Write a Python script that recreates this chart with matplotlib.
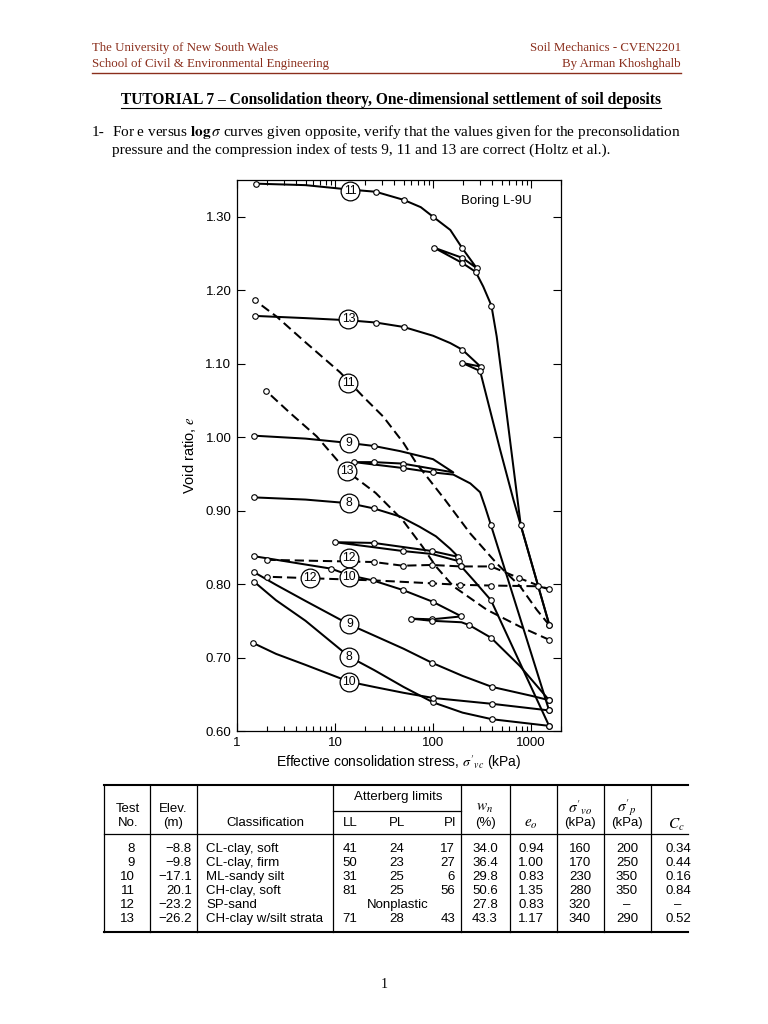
import numpy as np
import matplotlib
matplotlib.use("Agg")
import matplotlib.pyplot as plt
from matplotlib.ticker import FixedLocator, NullFormatter, LogLocator

plt.rcParams['mathtext.fontset'] = 'stix'

# --- e versus log(sigma) curves, Boring L-9U ---
# each test: loading curve (incl. unload/reload loop) and rebound curve
t8_load_x = [1.48, 5, 14, 24.8, 46, 73, 107, 150, 181, 97, 24.8, 10, 49, 97, 185, 194, 260, 390, 1527]
t8_load_e = [0.918, 0.915, 0.910, 0.903, 0.892, 0.878, 0.865, 0.848, 0.837, 0.845, 0.856, 0.857, 0.845, 0.841, 0.831, 0.824, 0.805, 0.778, 0.607]
t8_obs_x = [1.48, 24.8, 181, 97, 24.8, 10, 49, 185, 194, 390, 1527]
t8_obs_e = [0.918, 0.903, 0.837, 0.845, 0.856, 0.857, 0.845, 0.831, 0.824, 0.778, 0.607]
t8_reb_x = [1527, 400, 200, 100, 50, 25, 14, 5, 2.5, 1.5]
t8_reb_e = [0.607, 0.616, 0.625, 0.639, 0.660, 0.683, 0.701, 0.750, 0.778, 0.803]
t8_reb_obs_x = [1527, 400, 100, 1.5]
t8_reb_obs_e = [0.607, 0.616, 0.639, 0.803]

t9_load_x = [1.48, 5, 14, 24.8, 46, 100, 161, 49, 24.8, 15.7, 49, 99, 161, 240, 302, 340, 388, 1527]
t9_load_e = [1.002, 0.998, 0.992, 0.988, 0.981, 0.970, 0.952, 0.964, 0.966, 0.966, 0.958, 0.952, 0.949, 0.937, 0.925, 0.905, 0.881, 0.628]
t9_obs_x = [1.48, 24.8, 49, 24.8, 15.7, 49, 99, 388, 1527]
t9_obs_e = [1.002, 0.988, 0.964, 0.966, 0.966, 0.958, 0.952, 0.881, 0.628]
t9_reb_x = [1527, 1000, 400, 200, 97, 50, 25, 14, 5, 2.5, 1.5]
t9_reb_e = [0.642, 0.648, 0.660, 0.675, 0.693, 0.712, 0.730, 0.745, 0.777, 0.799, 0.816]
t9_reb_obs_x = [1527, 400, 97, 1.5]
t9_reb_obs_e = [0.642, 0.660, 0.693, 0.816]

t10_load_x = [1.48, 9.1, 14, 24.3, 49, 99, 195, 97, 59, 97, 195, 235, 390, 775, 1527]
t10_load_e = [0.838, 0.821, 0.812, 0.805, 0.792, 0.776, 0.756, 0.752, 0.753, 0.750, 0.748, 0.744, 0.727, 0.688, 0.642]
t10_obs_x = [1.48, 9.1, 24.3, 49, 99, 195, 97, 59, 97, 235, 390, 1527]
t10_obs_e = [0.838, 0.821, 0.805, 0.792, 0.776, 0.756, 0.752, 0.753, 0.750, 0.744, 0.727, 0.642]
t10_reb_x = [1527, 400, 200, 100, 50, 25, 14, 5, 2.5, 1.45]
t10_reb_e = [0.628, 0.637, 0.641, 0.645, 0.652, 0.660, 0.667, 0.690, 0.705, 0.720]
t10_reb_obs_x = [1527, 400, 100, 1.45]
t10_reb_obs_e = [0.628, 0.637, 0.645, 0.720]

t11_load_x = [1.58, 5, 14, 26, 50, 75, 100, 150, 199, 279, 199, 102, 199, 272, 325, 394, 446, 560, 785, 1538]
t11_load_e = [1.345, 1.343, 1.337, 1.334, 1.323, 1.313, 1.300, 1.282, 1.257, 1.230, 1.244, 1.258, 1.237, 1.225, 1.205, 1.179, 1.137, 1.035, 0.880, 0.744]
t11_obs_x = [1.58, 26, 50, 100, 199, 279, 199, 102, 199, 272, 394, 785, 1538]
t11_obs_e = [1.345, 1.334, 1.323, 1.300, 1.257, 1.230, 1.244, 1.258, 1.237, 1.225, 1.179, 0.880, 0.744]
t11_reb_x = [1538, 1143, 772, 447, 239, 132, 68, 50, 31, 19.4, 11.3, 5.1, 2.54, 1.53]
t11_reb_e = [0.744, 0.765, 0.797, 0.828, 0.869, 0.915, 0.964, 0.992, 1.028, 1.055, 1.088, 1.128, 1.164, 1.186]
t11_reb_obs_x = [1538, 1.53]
t11_reb_obs_e = [0.744, 1.186]

t12_load_x = [2, 25, 49, 97, 194, 390, 760, 1190, 1538]
t12_load_e = [0.833, 0.830, 0.825, 0.826, 0.824, 0.824, 0.808, 0.798, 0.793]
t12_obs_x = [2, 25, 49, 97, 194, 390, 760, 1538]
t12_obs_e = [0.833, 0.830, 0.825, 0.826, 0.824, 0.824, 0.808, 0.793]
t12_reb_x = [1538, 1190, 390, 189, 97, 25, 5.5, 2]
t12_reb_e = [0.793, 0.797, 0.798, 0.799, 0.801, 0.805, 0.808, 0.810]
t12_reb_obs_x = [1190, 390, 189, 97, 2]
t12_reb_obs_e = [0.797, 0.798, 0.799, 0.801, 0.810]

t13_load_x = [1.53, 5, 14, 26, 50, 100, 150, 199, 305, 199, 302, 483, 660, 1538]
t13_load_e = [1.165, 1.162, 1.159, 1.156, 1.150, 1.138, 1.128, 1.119, 1.096, 1.101, 1.090, 0.983, 0.915, 0.744]
t13_obs_x = [1.53, 26, 50, 199, 305, 199, 302]
t13_obs_e = [1.165, 1.156, 1.150, 1.119, 1.096, 1.101, 1.090]
t13_reb_x = [1538, 772, 354, 161, 107, 78, 49, 26, 13.1, 6.5, 3.47, 1.98]
t13_reb_e = [0.724, 0.742, 0.765, 0.797, 0.824, 0.851, 0.887, 0.924, 0.954, 1.001, 1.033, 1.063]
t13_reb_obs_x = [1538, 1.98]
t13_reb_obs_e = [0.724, 1.063]

# circled curve labels: (text, stress, void ratio)
curve_labels = [('11', 14.2, 1.335), ('13', 13.7, 1.161), ('11', 13.7, 1.074),
                ('9', 13.9, 0.992), ('13', 13.1, 0.954), ('8', 14, 0.910),
                ('12', 14, 0.835), ('12', 5.5, 0.808), ('10', 14, 0.809),
                ('9', 14, 0.745), ('8', 14, 0.701), ('10', 14, 0.667)]

x_ticks = [1, 10, 100, 1000]
y_ticks = [0.60, 0.70, 0.80, 0.90, 1.00, 1.10, 1.20, 1.30]

# --- table ---
tbl_test = ['8', '9', '10', '11', '12', '13']
tbl_elev = ['\u22128.8', '\u22129.8', '\u221217.1', '20.1', '\u221223.2', '\u221226.2']
tbl_class = ['CL-clay, soft', 'CL-clay, firm', 'ML-sandy silt', 'CH-clay, soft', 'SP-sand', 'CH-clay w/silt strata']
tbl_ll = ['41', '50', '31', '81', '', '71']
tbl_pl = ['24', '23', '25', '25', '', '28']
tbl_pi = ['17', '27', '6', '56', '', '43']
tbl_wn = ['34.0', '36.4', '29.8', '50.6', '27.8', '43.3']
tbl_e0 = ['0.94', '1.00', '0.83', '1.35', '0.83', '1.17']
tbl_svo = ['160', '170', '230', '280', '320', '340']
tbl_sp = ['200', '250', '350', '350', '\u2013', '290']
tbl_cc = ['0.34', '0.44', '0.16', '0.84', '\u2013', '0.52']

W, H = 768, 1024
fig = plt.figure(figsize=(W / 100, H / 100), dpi=100)
fig.patch.set_facecolor('white')

# page layer in pixel coordinates
pg = fig.add_axes([0, 0, 1, 1])
pg.set_xlim(0, W)
pg.set_ylim(H, 0)
pg.axis('off')

serif = 'Liberation Serif'
sans = 'Liberation Sans'
hdr_col = '#8a2e1c'

pg.text(92, 48, 'The University of New South Wales', family=serif, fontsize=9.3, color=hdr_col, va='center')
pg.text(92, 64, 'School of Civil & Environmental Engineering', family=serif, fontsize=9.3, color=hdr_col, va='center')
pg.text(681, 48, 'Soil Mechanics - CVEN2201', family=serif, fontsize=9.3, color=hdr_col, va='center', ha='right')
pg.text(681, 64, 'By Arman Khoshghalb', family=serif, fontsize=9.3, color=hdr_col, va='center', ha='right')
pg.plot([92, 681], [73, 73], color=hdr_col, lw=1.0)

title = pg.text(391, 100, 'TUTORIAL 7 \u2013 Consolidation theory, One-dimensional settlement of soil deposits',
                family=serif, fontsize=11.2, weight='bold', va='center', ha='center')
pg.text(92, 132, '1-', family=serif, fontsize=11, va='center')
pg.text(112, 132, r'For e versus $\mathbf{log}\,\sigma$ curves given opposite, verify that the values given for the preconsolidation',
        family=serif, fontsize=11, va='center')
pg.text(112, 150, 'pressure and the compression index of tests 9, 11 and 13 are correct (Holtz et al.).',
        family=serif, fontsize=11, va='center')
pg.text(384, 985, '1', family=serif, fontsize=10, va='center', ha='center')

# --- table drawing ---
tbl_top, tbl_bot = 785, 932
col_lines = [104, 150, 197, 333, 461, 510, 557, 604, 651]
for xl in col_lines:
    pg.plot([xl, xl], [tbl_top, tbl_bot], color='black', lw=0.9)
pg.plot([104, 688], [tbl_top, tbl_top], color='black', lw=1.5)
pg.plot([104, 688], [tbl_bot, tbl_bot], color='black', lw=1.5)
pg.plot([104, 688], [834, 834], color='black', lw=0.9)
pg.plot([333, 461], [811, 811], color='black', lw=0.9)

fs_t = 9.5
tk = dict(family=sans, fontsize=fs_t, va='center')
mk_t = dict(family=sans, fontsize=11, va='center')
pg.text(398, 797, 'Atterberg limits', ha='center', **tk)
pg.text(128, 809, 'Test', ha='center', **tk)
pg.text(128, 823, 'No.', ha='center', **tk)
pg.text(173, 809, 'Elev.', ha='center', **tk)
pg.text(173, 823, '(m)', ha='center', **tk)
pg.text(265, 823, 'Classification', ha='center', **tk)
pg.text(350, 823, 'LL', ha='center', **tk)
pg.text(397, 823, 'PL', ha='center', **tk)
pg.text(450, 823, 'PI', ha='center', **tk)
pg.text(485, 808, r'$w_n$', ha='center', **mk_t)
pg.text(485, 823, '(%)', ha='center', **tk)
pg.text(531, 824, r'$e_o$', ha='center', **mk_t)
pg.text(580, 808, r"$\sigma'_{vo}$", ha='center', **mk_t)
pg.text(580, 823, '(kPa)', ha='center', **tk)
pg.text(627, 808, r"$\sigma'_{p}$", ha='center', **mk_t)
pg.text(627, 823, '(kPa)', ha='center', **tk)
pg.text(676, 825, r'$C_c$', ha='center', **mk_t)

row_y = np.linspace(849, 919, len(tbl_test))
for i, yy in enumerate(row_y):
    pg.text(135, yy, tbl_test[i], ha='right', **tk)
    pg.text(192, yy, tbl_elev[i], ha='right', **tk)
    pg.text(206, yy, tbl_class[i], ha='left', **tk)
    if tbl_ll[i]:
        pg.text(350, yy, tbl_ll[i], ha='center', **tk)
        pg.text(397, yy, tbl_pl[i], ha='center', **tk)
        pg.text(455, yy, tbl_pi[i], ha='right', **tk)
    else:
        pg.text(398, yy, 'Nonplastic', ha='center', **tk)
    pg.text(485, yy, tbl_wn[i], ha='center', **tk)
    pg.text(531, yy, tbl_e0[i], ha='center', **tk)
    pg.text(580, yy, tbl_svo[i], ha='center', **tk)
    pg.text(627, yy, tbl_sp[i], ha='center', **tk)
    pg.text(678, yy, tbl_cc[i], ha='center', **tk)

# --- chart ---
ax = fig.add_axes([237 / W, 1 - 731 / H, 324 / W, 551 / H])
ax.set_xscale('log')
ax.set_xlim(1, 2020)
ax.set_ylim(0.60, 1.35)

solid = dict(color='black', lw=1.45, solid_joinstyle='round', zorder=3)
dashed = dict(color='black', lw=1.45, ls=(0, (4.6, 2.4)), zorder=3)
mk = dict(ls='none', marker='o', ms=4, mfc='white', mec='black', mew=0.8, zorder=4)

for lx, le, ox, oe in [(t8_load_x, t8_load_e, t8_obs_x, t8_obs_e),
                       (t9_load_x, t9_load_e, t9_obs_x, t9_obs_e),
                       (t10_load_x, t10_load_e, t10_obs_x, t10_obs_e),
                       (t11_load_x, t11_load_e, t11_obs_x, t11_obs_e),
                       (t13_load_x, t13_load_e, t13_obs_x, t13_obs_e),
                       (t8_reb_x, t8_reb_e, t8_reb_obs_x, t8_reb_obs_e),
                       (t9_reb_x, t9_reb_e, t9_reb_obs_x, t9_reb_obs_e),
                       (t10_reb_x, t10_reb_e, t10_reb_obs_x, t10_reb_obs_e)]:
    ax.plot(lx, le, **solid)
    ax.plot(ox, oe, **mk)

for lx, le, ox, oe in [(t11_reb_x, t11_reb_e, t11_reb_obs_x, t11_reb_obs_e),
                       (t13_reb_x, t13_reb_e, t13_reb_obs_x, t13_reb_obs_e),
                       (t12_load_x, t12_load_e, t12_obs_x, t12_obs_e),
                       (t12_reb_x, t12_reb_e, t12_reb_obs_x, t12_reb_obs_e)]:
    ax.plot(lx, le, **dashed)
    ax.plot(ox, oe, **mk)

for txt, lx, le in curve_labels:
    ax.plot([lx], [le], ls='none', marker='o', ms=13.5, mfc='white', mec='black', mew=0.9, zorder=5)
    ax.text(lx, le, txt, family=sans, fontsize=8.8, ha='center', va='center', zorder=6)

ax.text(0.91, 0.962, 'Boring L-9U', transform=ax.transAxes, family=sans, fontsize=9.5,
        ha='right', va='center')

ax.xaxis.set_major_locator(FixedLocator(x_ticks))
ax.set_xticklabels([str(v) for v in x_ticks])
ax.xaxis.set_minor_locator(LogLocator(base=10, subs=np.arange(2, 10)))
ax.xaxis.set_minor_formatter(NullFormatter())
ax.set_yticks(y_ticks)
ax.set_yticklabels(['%.2f' % v for v in y_ticks])
ax.tick_params(which='both', direction='in', top=True, right=True, labelsize=9.5, width=0.8)
ax.tick_params(which='major', length=6, pad=4)
ax.tick_params(which='minor', length=3.5)
for lab in ax.get_xticklabels() + ax.get_yticklabels():
    lab.set_family(sans)
for sp in ax.spines.values():
    sp.set_linewidth(0.9)

ax.set_xlabel(r"Effective consolidation stress, $\sigma'_{vc}$ (kPa)", family=sans, fontsize=10, labelpad=3)
ax.set_ylabel(r'Void ratio, $e$', family=sans, fontsize=10.5, labelpad=5)

# underline the title
fig.canvas.draw()
bb = title.get_window_extent()
inv = pg.transData.inverted()
(x0, y0), (x1, y1) = inv.transform([[bb.x0, bb.y0], [bb.x1, bb.y1]])
pg.plot([x0, x1], [y0, y0], color='black', lw=0.8)

fig.savefig('out.png', dpi=100, facecolor='white')
